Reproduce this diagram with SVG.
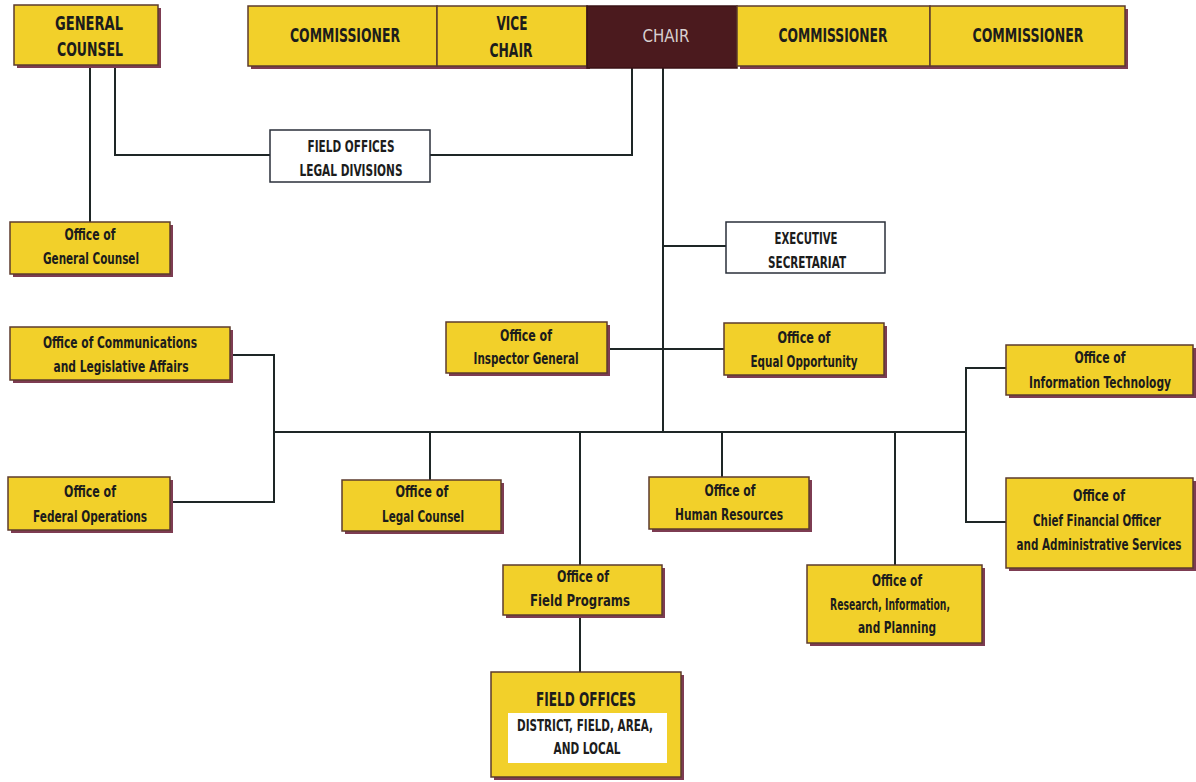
<svg xmlns="http://www.w3.org/2000/svg" width="1196" height="782" viewBox="0 0 1196 782">
<defs>
<style>
.bx{fill:#f2d02a;stroke:#5c3b2e;stroke-width:1.5}
.sh{fill:#7d3c52}
.wb{fill:#ffffff;stroke:#2a2f3a;stroke-width:1.5}
.t{font-family:"DejaVu Sans Condensed","DejaVu Sans",sans-serif;font-weight:bold;fill:#1c1c1c;text-anchor:middle;font-size:15px}
.T{font-family:"DejaVu Sans Condensed","DejaVu Sans",sans-serif;font-weight:bold;fill:#1c1c1c;text-anchor:middle;font-size:19px}
.c{fill:none;stroke:#1e2626;stroke-width:2}
</style>
</defs>
<rect width="1196" height="782" fill="#ffffff"/>
<g id="connectors">
<path class="c" d="M90,65 V222"/>
<path class="c" d="M115,65 V155 H270"/>
<path class="c" d="M430,155 H632 V68"/>
<path class="c" d="M663,68 V432"/>
<path class="c" d="M663,246 H727"/>
<path class="c" d="M607,349 H724"/>
<path class="c" d="M274,432 H966"/>
<path class="c" d="M230,355 H274 V502 H170"/>
<path class="c" d="M430,432 V480"/>
<path class="c" d="M580,432 V565"/>
<path class="c" d="M580,615 V672"/>
<path class="c" d="M722,432 V477"/>
<path class="c" d="M895,432 V565"/>
<path class="c" d="M1006,368 H966 V522 H1006"/>
</g>
<g id="general-counsel">
<rect class="sh" x="17" y="8" width="144" height="60"/>
<rect class="bx" x="14" y="5" width="144" height="60"/>
<text class="T" x="89" y="30" textLength="68" lengthAdjust="spacingAndGlyphs">GENERAL</text>
<text class="T" x="90" y="56" textLength="66" lengthAdjust="spacingAndGlyphs">COUNSEL</text>
</g>
<g id="commissioner-1">
<rect class="sh" x="251" y="9" width="189" height="60"/>
<rect class="bx" x="248" y="6" width="189" height="60"/>
<text class="T" x="345" y="42" textLength="110" lengthAdjust="spacingAndGlyphs">COMMISSIONER</text>
</g>
<g id="vice-chair">
<rect class="sh" x="440" y="9" width="150" height="60"/>
<rect class="bx" x="437" y="6" width="150" height="60"/>
<text class="T" x="512" y="30" textLength="31" lengthAdjust="spacingAndGlyphs">VICE</text>
<text class="T" x="511" y="57" textLength="43" lengthAdjust="spacingAndGlyphs">CHAIR</text>
</g>
<g id="chair">
<rect x="587" y="6" width="150" height="62" fill="#4b1a1e" stroke="#3a1216" stroke-width="1.5"/>
<text x="666" y="42" font-family="'DejaVu Sans Condensed','DejaVu Sans',sans-serif" font-size="17" fill="#d8d0d0" text-anchor="middle" textLength="47" lengthAdjust="spacingAndGlyphs">CHAIR</text>
</g>
<g id="commissioner-2">
<rect class="sh" x="740" y="9" width="193" height="60"/>
<rect class="bx" x="737" y="6" width="193" height="60"/>
<text class="T" x="833" y="42" textLength="109" lengthAdjust="spacingAndGlyphs">COMMISSIONER</text>
</g>
<g id="commissioner-3">
<rect class="sh" x="933" y="9" width="195" height="60"/>
<rect class="bx" x="930" y="6" width="195" height="60"/>
<text class="T" x="1028" y="42" textLength="111" lengthAdjust="spacingAndGlyphs">COMMISSIONER</text>
</g>
<g id="field-offices-legal-divisions">
<rect class="wb" x="270" y="130" width="160" height="52"/>
<text class="t" x="351" y="152" textLength="87" lengthAdjust="spacingAndGlyphs">FIELD OFFICES</text>
<text class="t" x="351" y="176" textLength="103" lengthAdjust="spacingAndGlyphs">LEGAL DIVISIONS</text>
</g>
<g id="office-general-counsel">
<rect class="sh" x="13" y="225" width="160" height="52"/>
<rect class="bx" x="10" y="222" width="160" height="52"/>
<text class="t" x="90" y="240" textLength="51" lengthAdjust="spacingAndGlyphs">Office of</text>
<text class="t" x="91" y="264" textLength="96" lengthAdjust="spacingAndGlyphs">General Counsel</text>
</g>
<g id="executive-secretariat">
<rect class="wb" x="726" y="222" width="159" height="51"/>
<text class="t" x="806" y="244" textLength="63" lengthAdjust="spacingAndGlyphs">EXECUTIVE</text>
<text class="t" x="807" y="268" textLength="78" lengthAdjust="spacingAndGlyphs">SECRETARIAT</text>
</g>
<g id="office-communications">
<rect class="sh" x="13" y="330" width="220" height="53"/>
<rect class="bx" x="10" y="327" width="220" height="53"/>
<text class="t" x="120" y="348" textLength="154" lengthAdjust="spacingAndGlyphs">Office of Communications</text>
<text class="t" x="121" y="372" textLength="135" lengthAdjust="spacingAndGlyphs">and Legislative Affairs</text>
</g>
<g id="office-inspector-general">
<rect class="sh" x="449" y="325" width="161" height="51"/>
<rect class="bx" x="446" y="322" width="161" height="51"/>
<text class="t" x="526" y="341" textLength="52" lengthAdjust="spacingAndGlyphs">Office of</text>
<text class="t" x="526" y="364" textLength="105" lengthAdjust="spacingAndGlyphs">Inspector General</text>
</g>
<g id="office-equal-opportunity">
<rect class="sh" x="727" y="326" width="160" height="52"/>
<rect class="bx" x="724" y="323" width="160" height="52"/>
<text class="t" x="804" y="343" textLength="53" lengthAdjust="spacingAndGlyphs">Office of</text>
<text class="t" x="804" y="367" textLength="107" lengthAdjust="spacingAndGlyphs">Equal Opportunity</text>
</g>
<g id="office-information-technology">
<rect class="sh" x="1009" y="348" width="187" height="50"/>
<rect class="bx" x="1006" y="345" width="187" height="50"/>
<text class="t" x="1100" y="363" textLength="51" lengthAdjust="spacingAndGlyphs">Office of</text>
<text class="t" transform="translate(1100,388) scale(0.78,1)" x="0" y="0" textLength="182" lengthAdjust="spacingAndGlyphs">Information Technology</text>
</g>
<g id="office-federal-operations">
<rect class="sh" x="11" y="480" width="162" height="53"/>
<rect class="bx" x="8" y="477" width="162" height="53"/>
<text class="t" x="90" y="497" textLength="52" lengthAdjust="spacingAndGlyphs">Office of</text>
<text class="t" x="90" y="522" textLength="114" lengthAdjust="spacingAndGlyphs">Federal Operations</text>
</g>
<g id="office-legal-counsel">
<rect class="sh" x="345" y="483" width="159" height="51"/>
<rect class="bx" x="342" y="480" width="159" height="51"/>
<text class="t" x="422" y="497" textLength="53" lengthAdjust="spacingAndGlyphs">Office of</text>
<text class="t" x="423" y="522" textLength="82" lengthAdjust="spacingAndGlyphs">Legal Counsel</text>
</g>
<g id="office-human-resources">
<rect class="sh" x="652" y="480" width="160" height="52"/>
<rect class="bx" x="649" y="477" width="160" height="52"/>
<text class="t" x="730" y="496" textLength="51" lengthAdjust="spacingAndGlyphs">Office of</text>
<text class="t" x="729" y="520" textLength="108" lengthAdjust="spacingAndGlyphs">Human Resources</text>
</g>
<g id="office-cfo">
<rect class="sh" x="1009" y="481" width="187" height="90"/>
<rect class="bx" x="1006" y="478" width="187" height="90"/>
<text class="t" x="1099" y="501" textLength="52" lengthAdjust="spacingAndGlyphs">Office of</text>
<text class="t" transform="translate(1097,526) scale(0.78,1)" x="0" y="0" textLength="164" lengthAdjust="spacingAndGlyphs">Chief Financial Officer</text>
<text class="t" transform="translate(1099,550) scale(0.72,1)" x="0" y="0" textLength="229" lengthAdjust="spacingAndGlyphs">and Administrative Services</text>
</g>
<g id="office-field-programs">
<rect class="sh" x="506" y="568" width="159" height="50"/>
<rect class="bx" x="503" y="565" width="159" height="50"/>
<text class="t" x="583" y="582" textLength="52" lengthAdjust="spacingAndGlyphs">Office of</text>
<text class="t" x="580" y="606" textLength="100" lengthAdjust="spacingAndGlyphs">Field Programs</text>
</g>
<g id="office-research">
<rect class="sh" x="810" y="568" width="175" height="78"/>
<rect class="bx" x="807" y="565" width="175" height="78"/>
<text class="t" x="897" y="586" textLength="50" lengthAdjust="spacingAndGlyphs">Office of</text>
<text class="t" x="890" y="610" textLength="120" lengthAdjust="spacingAndGlyphs">Research, Information,</text>
<text class="t" x="897" y="633" textLength="78" lengthAdjust="spacingAndGlyphs">and Planning</text>
</g>
<g id="field-offices">
<rect class="sh" x="494" y="675" width="190" height="105"/>
<rect class="bx" x="491" y="672" width="190" height="105"/>
<text class="T" x="586" y="706" textLength="100" lengthAdjust="spacingAndGlyphs">FIELD OFFICES</text>
<rect x="508" y="713" width="159" height="50" fill="#ffffff"/>
<text class="t" x="585" y="731" textLength="136" lengthAdjust="spacingAndGlyphs">DISTRICT, FIELD, AREA,</text>
<text class="t" x="587" y="754" textLength="67" lengthAdjust="spacingAndGlyphs">AND LOCAL</text>
</g>
</svg>
